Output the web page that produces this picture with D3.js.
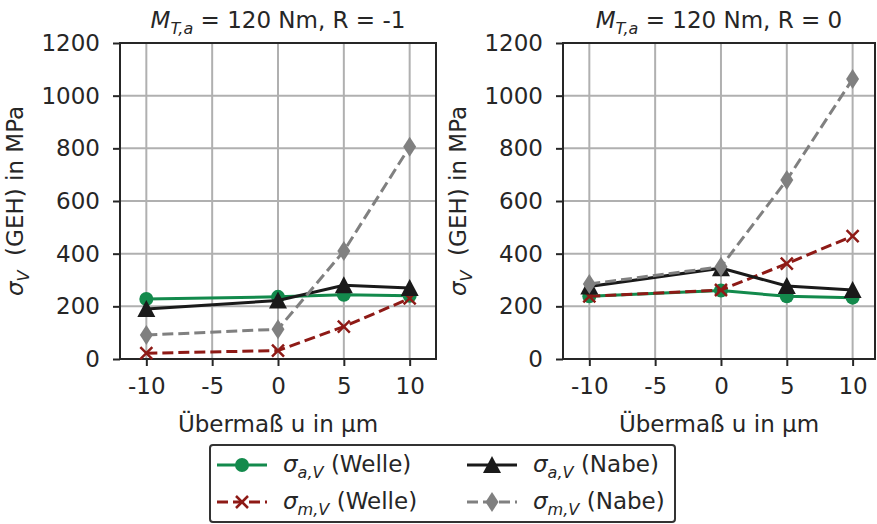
<!DOCTYPE html>
<html lang="de">
<head>
<meta charset="UTF-8">
<title>chart</title>
<style>
  body { margin: 0; background: #fff; }
  text { font-family: "DejaVu Sans", sans-serif; fill: #262626; }
</style>
</head>
<body>
<svg id="chart" width="877" height="524"></svg>
<script src="https://d3js.org/d3.v7.min.js"></script>
<script>
// Übermaß u in µm
const xValues = [-10, 0, 5, 10];
const xTicks = [-10, -5, 0, 5, 10];
const yTicks = [0, 200, 400, 600, 800, 1000, 1200];

// R = -1
const welleAmpR1 = [228, 236, 244, 240];
const welleMeanR1 = [22, 32, 123, 230];
const nabeAmpR1 = [190, 222, 280, 270];
const nabeMeanR1 = [91, 113, 410, 806];

// R = 0
const welleAmpR0 = [238, 260, 238, 233];
const welleMeanR0 = [238, 262, 362, 467];
const nabeAmpR0 = [275, 345, 277, 262];
const nabeMeanR0 = [285, 350, 680, 1063];

const green = '#138a4c', red = '#8e1a16', black = '#1a1a1a', grey = '#808080';
const fs = 23;

const svg = d3.select('#chart');

// zeichnet ein sigma mit Index
function sigmaText(sel, sub, rest, size) {
  sel.append('tspan').attr('font-style', 'italic').text('σ');
  sel.append('tspan').attr('font-style', 'italic').attr('font-size', size * 0.7)
    .attr('dy', size * 0.25).text(sub);
  sel.append('tspan').attr('dy', -size * 0.25).text(rest);
}

function marker(g, type, color, x, y) {
  if (type === 'circle') {
    g.append('circle').attr('cx', x).attr('cy', y).attr('r', 7).attr('fill', color);
  } else if (type === 'triangle') {
    g.append('path').attr('d', `M${x},${y - 9}L${x + 9},${y + 8}L${x - 9},${y + 8}Z`).attr('fill', color);
  } else if (type === 'diamond') {
    g.append('path').attr('d', `M${x},${y - 10}L${x + 6.5},${y}L${x},${y + 10}L${x - 6.5},${y}Z`).attr('fill', color);
  } else if (type === 'cross') {
    g.append('path').attr('d', `M${x - 6},${y - 6}L${x + 6},${y + 6}M${x - 6},${y + 6}L${x + 6},${y - 6}`)
      .attr('stroke', color).attr('stroke-width', 2.5);
  }
}

function panel(left, right, xmax, titleR, series) {
  const top = 43, bottom = 359;
  const x = d3.scaleLinear().domain([-12, xmax]).range([left, right]);
  const y = d3.scaleLinear().domain([0, 1200]).range([bottom, top]);
  const g = svg.append('g');

  // Gitter
  g.selectAll('.gx').data(xTicks).enter().append('line')
    .attr('x1', d => x(d)).attr('x2', d => x(d)).attr('y1', top).attr('y2', bottom)
    .attr('stroke', '#b0b0b0').attr('stroke-width', 2);
  g.selectAll('.gy').data(yTicks).enter().append('line')
    .attr('x1', left).attr('x2', right).attr('y1', d => y(d)).attr('y2', d => y(d))
    .attr('stroke', '#b0b0b0').attr('stroke-width', 2);

  // Achsen
  const xAxis = g.append('g').attr('transform', `translate(0,${bottom})`)
    .call(d3.axisBottom(x).tickValues(xTicks).tickSize(7).tickPadding(12).tickFormat(d => String(d)));
  const yAxis = g.append('g').attr('transform', `translate(${left},0)`)
    .call(d3.axisLeft(y).tickValues(yTicks).tickSize(7).tickPadding(13).tickFormat(d3.format('d')));
  [xAxis, yAxis].forEach(a => {
    a.select('.domain').remove();
    a.selectAll('line').attr('stroke', '#262626').attr('stroke-width', 2);
    a.selectAll('text').attr('font-size', fs).attr('fill', '#262626')
      .attr('font-family', '"DejaVu Sans", sans-serif');
  });
  g.append('rect').attr('x', left).attr('y', top).attr('width', right - left).attr('height', bottom - top)
    .attr('fill', 'none').attr('stroke', '#262626').attr('stroke-width', 2);

  // Linien und Marker
  const line = d3.line().x((d, i) => x(xValues[i])).y(d => y(d));
  series.forEach(s => {
    g.append('path').attr('d', line(s.values)).attr('fill', 'none')
      .attr('stroke', s.color).attr('stroke-width', 3)
      .attr('stroke-dasharray', s.dash ? '11,5' : null);
    s.values.forEach((v, i) => marker(g, s.marker, s.color, x(xValues[i]), y(v)));
  });

  // Titel
  const cx = (left + right) / 2;
  const t = g.append('text').attr('x', cx).attr('y', 28).attr('text-anchor', 'middle').attr('font-size', fs);
  t.append('tspan').attr('font-style', 'italic').text('M');
  t.append('tspan').attr('font-style', 'italic').attr('font-size', 16).attr('dy', 6).text('T,a');
  t.append('tspan').attr('dy', -6).text(' = 120 Nm, R = ' + titleR);

  // Achsenbeschriftung
  g.append('text').attr('x', cx).attr('y', 432).attr('text-anchor', 'middle').attr('font-size', fs)
    .text('Übermaß u in µm');
  const yl = g.append('text').attr('transform', `translate(${left - 97},${(top + bottom) / 2}) rotate(-90)`)
    .attr('text-anchor', 'middle').attr('font-size', fs);
  sigmaText(yl, 'V', '\u00a0\u00a0(GEH) in MPa', fs);
}

panel(120, 436, 12, '-1', [
  { values: welleAmpR1, color: green, marker: 'circle', dash: false },
  { values: welleMeanR1, color: red, marker: 'cross', dash: true },
  { values: nabeAmpR1, color: black, marker: 'triangle', dash: false },
  { values: nabeMeanR1, color: grey, marker: 'diamond', dash: true }
]);
panel(563, 875, 11.7, '0', [
  { values: welleAmpR0, color: green, marker: 'circle', dash: false },
  { values: welleMeanR0, color: red, marker: 'cross', dash: true },
  { values: nabeAmpR0, color: black, marker: 'triangle', dash: false },
  { values: nabeMeanR0, color: grey, marker: 'diamond', dash: true }
]);

// Legende
const legendItems = [
  { sub: 'a,V', part: ' (Welle)', color: green, marker: 'circle', dash: false, col: 0, row: 0 },
  { sub: 'm,V', part: ' (Welle)', color: red, marker: 'cross', dash: true, col: 0, row: 1 },
  { sub: 'a,V', part: ' (Nabe)', color: black, marker: 'triangle', dash: false, col: 1, row: 0 },
  { sub: 'm,V', part: ' (Nabe)', color: grey, marker: 'diamond', dash: true, col: 1, row: 1 }
];
const lg = svg.append('g');
lg.append('rect').attr('x', 210).attr('y', 445).attr('width', 465).attr('height', 77).attr('rx', 3)
  .attr('fill', '#fff').attr('stroke', '#333').attr('stroke-width', 2);
legendItems.forEach(it => {
  const x0 = it.col === 0 ? 217 : 467;
  const yy = it.row === 0 ? 465 : 502;
  lg.append('line').attr('x1', x0).attr('x2', x0 + 50).attr('y1', yy).attr('y2', yy)
    .attr('stroke', it.color).attr('stroke-width', 3)
    .attr('stroke-dasharray', it.dash ? '11,5' : null);
  marker(lg, it.marker, it.color, x0 + 25, yy);
  const t = lg.append('text').attr('x', x0 + 66).attr('y', yy + 7).attr('font-size', fs);
  sigmaText(t, it.sub, it.part, fs);
});
</script>
</body>
</html>
